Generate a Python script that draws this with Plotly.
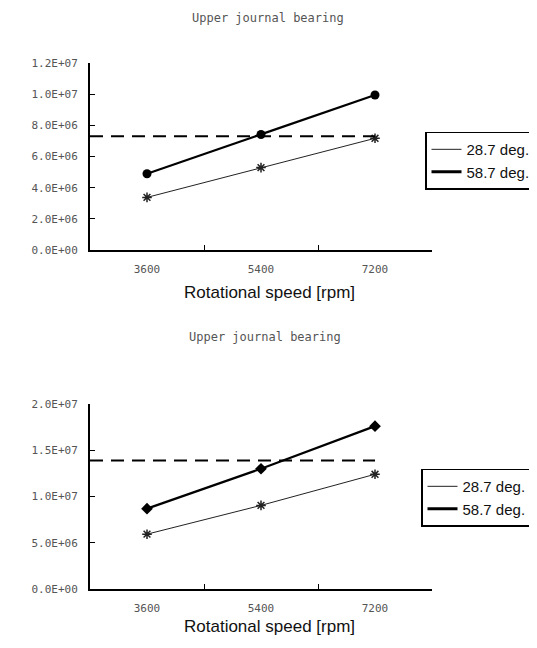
import plotly.graph_objects as go

categories = ["3600", "5400", "7200"]

top_28_7 = [3.38e6, 5.29e6, 7.17e6]
top_58_7 = [4.90e6, 7.41e6, 9.95e6]
top_limit = 7.3e6
top_ticks = [0, 2e6, 4e6, 6e6, 8e6, 1e7, 1.2e7]
top_ticklabels = ["0.0E+00", "2.0E+06", "4.0E+06", "6.0E+06", "8.0E+06", "1.0E+07", "1.2E+07"]

bot_28_7 = [5.93e6, 9.04e6, 12.4e6]
bot_58_7 = [8.69e6, 13.0e6, 17.6e6]
bot_limit = 13.9e6
bot_ticks = [0, 5e6, 1e7, 1.5e7, 2e7]
bot_ticklabels = ["0.0E+00", "5.0E+06", "1.0E+07", "1.5E+07", "2.0E+07"]

series_names = ["28.7 deg.", "58.7 deg."]
title_text = "Upper journal bearing"
xtitle = "Rotational speed [rpm]"

OFF = 8  # default page body margin
W, H = 537 - OFF, 648 - OFF
fig = go.Figure()

def px_x(p):
    return (p - OFF) / W

def px_y(p):
    return 1 - (p - OFF) / H

tick_font = dict(family="DejaVu Sans Mono", size=11, color="#555")
text_font = dict(family="Liberation Sans, Arial", size=17, color="#111")
title_font = dict(family="DejaVu Sans Mono", size=12, color="#555")

def add_panel(xref, yref, legend, d28, d58, sym58):
    fig.add_trace(go.Scatter(x=categories, y=d28, mode="lines+markers", xaxis=xref, yaxis=yref,
                             line=dict(color="#222", width=1),
                             marker=dict(symbol="asterisk-open", size=8, line=dict(width=1.5, color="#555")),
                             showlegend=False))
    fig.add_trace(go.Scatter(x=categories, y=d58, mode="lines+markers", xaxis=xref, yaxis=yref,
                             line=dict(color="#000", width=2.2),
                             marker=dict(symbol=sym58, size=9, color="#000"),
                             showlegend=False))
    fig.add_trace(go.Scatter(x=[None], y=[None], mode="lines", xaxis=xref, yaxis=yref,
                             line=dict(color="#222", width=1), name=series_names[0], legend=legend))
    fig.add_trace(go.Scatter(x=[None], y=[None], mode="lines", xaxis=xref, yaxis=yref,
                             line=dict(color="#000", width=3), name=series_names[1], legend=legend))

add_panel("x", "y", "legend", top_28_7, top_58_7, "circle")
add_panel("x2", "y2", "legend2", bot_28_7, bot_58_7, "diamond")

last_idx = len(categories) - 1
for yref, xref, lim in [("y", "x", top_limit), ("y2", "x2", bot_limit)]:
    fig.add_shape(type="line", xref=xref, yref=yref, x0=-0.5, x1=last_idx, y0=lim, y1=lim,
                  line=dict(color="#000", width=2, dash="13px,8px"))

xdom = [px_x(90), px_x(432)]
axis_common = dict(showline=True, linecolor="#000", linewidth=2, showgrid=False, zeroline=False,
                   ticks="inside", ticklen=5, tickcolor="#000", tickfont=tick_font)

legend_common = dict(xanchor="left", yanchor="top", bordercolor="#000", borderwidth=1.5,
                     bgcolor="white", font=dict(family="Liberation Sans, Arial", size=15, color="#111"),
                     tracegroupgap=0, itemwidth=30)

fig.update_layout(
    width=W, height=H,
    margin=dict(l=0, r=0, t=0, b=0),
    paper_bgcolor="white", plot_bgcolor="white",
    showlegend=True,
    xaxis=dict(domain=xdom, anchor="y", type="category", tickson="boundaries",
               range=[-0.5, 2.5], ticklabelstandoff=8, **axis_common),
    yaxis=dict(domain=[px_y(249), px_y(58)], anchor="x", range=[0, 1.2e7],
               tickvals=top_ticks, ticktext=top_ticklabels, ticklabelstandoff=8, **axis_common),
    xaxis2=dict(domain=xdom, anchor="y2", type="category", tickson="boundaries",
                range=[-0.5, 2.5], ticklabelstandoff=8, **axis_common),
    yaxis2=dict(domain=[px_y(595), px_y(406)], anchor="x2", range=[0, 2e7],
                tickvals=bot_ticks, ticktext=bot_ticklabels, ticklabelstandoff=8, **axis_common),
    legend=dict(x=px_x(425), y=px_y(128), **legend_common),
    legend2=dict(x=px_x(421), y=px_y(472), **legend_common),
    annotations=[
        dict(text=title_text, xref="paper", yref="paper", x=px_x(268), y=px_y(12),
             yanchor="middle", showarrow=False, font=title_font),
        dict(text=title_text, xref="paper", yref="paper", x=px_x(265), y=px_y(338),
             yanchor="middle", showarrow=False, font=title_font),
        dict(text=xtitle, xref="paper", yref="paper", x=px_x(269), y=px_y(292),
             yanchor="middle", showarrow=False, font=text_font),
        dict(text=xtitle, xref="paper", yref="paper", x=px_x(269), y=px_y(633),
             yanchor="middle", showarrow=False, font=text_font),
    ],
)

fig.write_html("out.html")
